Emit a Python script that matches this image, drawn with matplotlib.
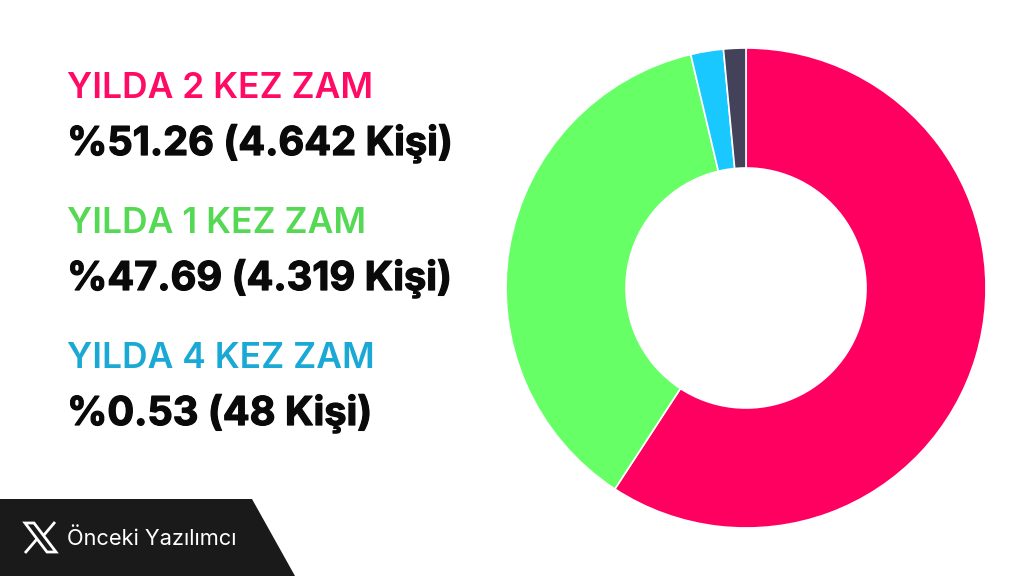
import matplotlib

matplotlib.use("Agg")
import matplotlib.pyplot as plt
import matplotlib.patheffects as pe
from matplotlib.patches import Polygon

# slice sizes as drawn in the picture (they do not follow the labels)
pay = [59.2, 37.1, 2.2, 1.5]
colori = ["#ff0060", "#66ff66", "#19c8ff", "#44415a"]

titoli = ["YILDA 2 KEZ ZAM", "YILDA 1 KEZ ZAM", "YILDA 4 KEZ ZAM"]
valori = ["%51.26 (4.642 Kişi)", "%47.69 (4.319 Kişi)", "%0.53 (48 Kişi)"]
colori_titoli = ["#ff0a64", "#55d955", "#1aa8d4"]
y_titoli = [98, 233, 368]
y_valori = [155, 290, 425]
firma = "Önceki Yazılımcı"

fig = plt.figure(figsize=(10.24, 5.76), dpi=100)

# background axes in pixel coordinates
sf = fig.add_axes([0, 0, 1, 1])
sf.set_xlim(0, 1024)
sf.set_ylim(576, 0)
sf.axis("off")

for i in range(3):
    sf.text(67, y_titoli[i], titoli[i], color=colori_titoli[i], fontsize=25.5,
            family="Inter", fontweight="semibold", va="baseline")
    # a thin stroke because the original face is heavier than Inter bold
    sf.text(67, y_valori[i], valori[i], color="#0a0a0a", fontsize=28.6,
            family="Inter", fontweight="bold", va="baseline",
            path_effects=[pe.withStroke(linewidth=0.9, foreground="#0a0a0a")])

# footer
sf.add_patch(Polygon([(0, 499), (252, 499), (295, 576), (0, 576)], color="#1a1a1a", lw=0))
sf.add_patch(Polygon([(25, 523), (34, 523), (56, 552), (47, 552)], fc="none", ec="white", lw=2))
sf.plot([55, 44], [522, 535], color="white", lw=2, solid_capstyle="butt")
sf.plot([37, 25], [539, 553], color="white", lw=2, solid_capstyle="butt")
sf.text(67, 545, firma, color="white", fontsize=15.7, family="Inter", va="baseline")

# donut
ax = fig.add_axes([506 / 1024, 48 / 576, 480 / 1024, 480 / 576])
ax.pie(pay, colors=colori, startangle=90, counterclock=False, radius=1,
       wedgeprops=dict(width=0.5, edgecolor="white", linewidth=1.2))
ax.set_xlim(-1, 1)
ax.set_ylim(-1, 1)
ax.axis("off")

fig.savefig("out.png", dpi=100)
plt.close()
